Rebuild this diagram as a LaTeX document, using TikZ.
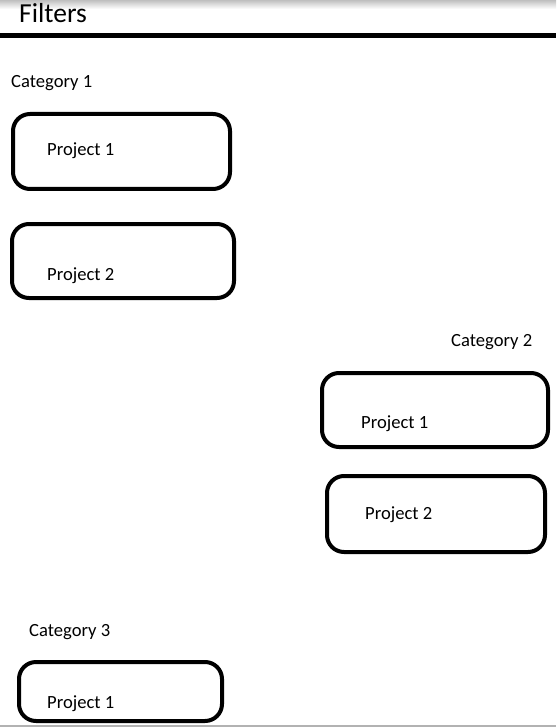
\documentclass[tikz,border=0pt]{standalone}
\usepackage{fontspec}
\setmainfont{Carlito}
\begin{document}
\begin{tikzpicture}[x=1pt,y=-1pt,
  proj/.style={draw=black,line width=4pt,rounded corners=17pt},
  lbl/.style={anchor=base west,inner sep=0pt,font=\fontsize{18.6}{20}\selectfont}]
\useasboundingbox (0,0) rectangle (556,727);
\fill[white] (0,0) rectangle (556,727);
\shade[top color=black!25,bottom color=white] (0,0) rectangle (556,9);
\fill[gray!60] (0,725) rectangle (556,727);
\draw[line width=5pt] (0,35.5) -- (556,35.5);
\node[anchor=base west,inner sep=0pt,font=\fontsize{27.5}{30}\selectfont] (filters) at (19,23) {Filters};
\node[lbl] (cat1) at (11,88) {Category 1};
\draw[proj] (13,114) rectangle (230,189);
\node[lbl] (c1p1) at (47,156) {Project 1};
\draw[proj] (12,224) rectangle (234,298);
\node[lbl] (c1p2) at (47,280) {Project 2};
\node[lbl] (cat2) at (451,346) {Category 2};
\draw[proj] (322,373) rectangle (548,447);
\node[lbl] (c2p1) at (361,428) {Project 1};
\draw[proj] (327,476) rectangle (545,552);
\node[lbl] (c2p2) at (365,519) {Project 2};
\node[lbl] (cat3) at (29,636) {Category 3};
\draw[proj] (19,662) rectangle (222,721);
\node[lbl] (c3p1) at (47,708) {Project 1};
\end{tikzpicture}
\end{document}
